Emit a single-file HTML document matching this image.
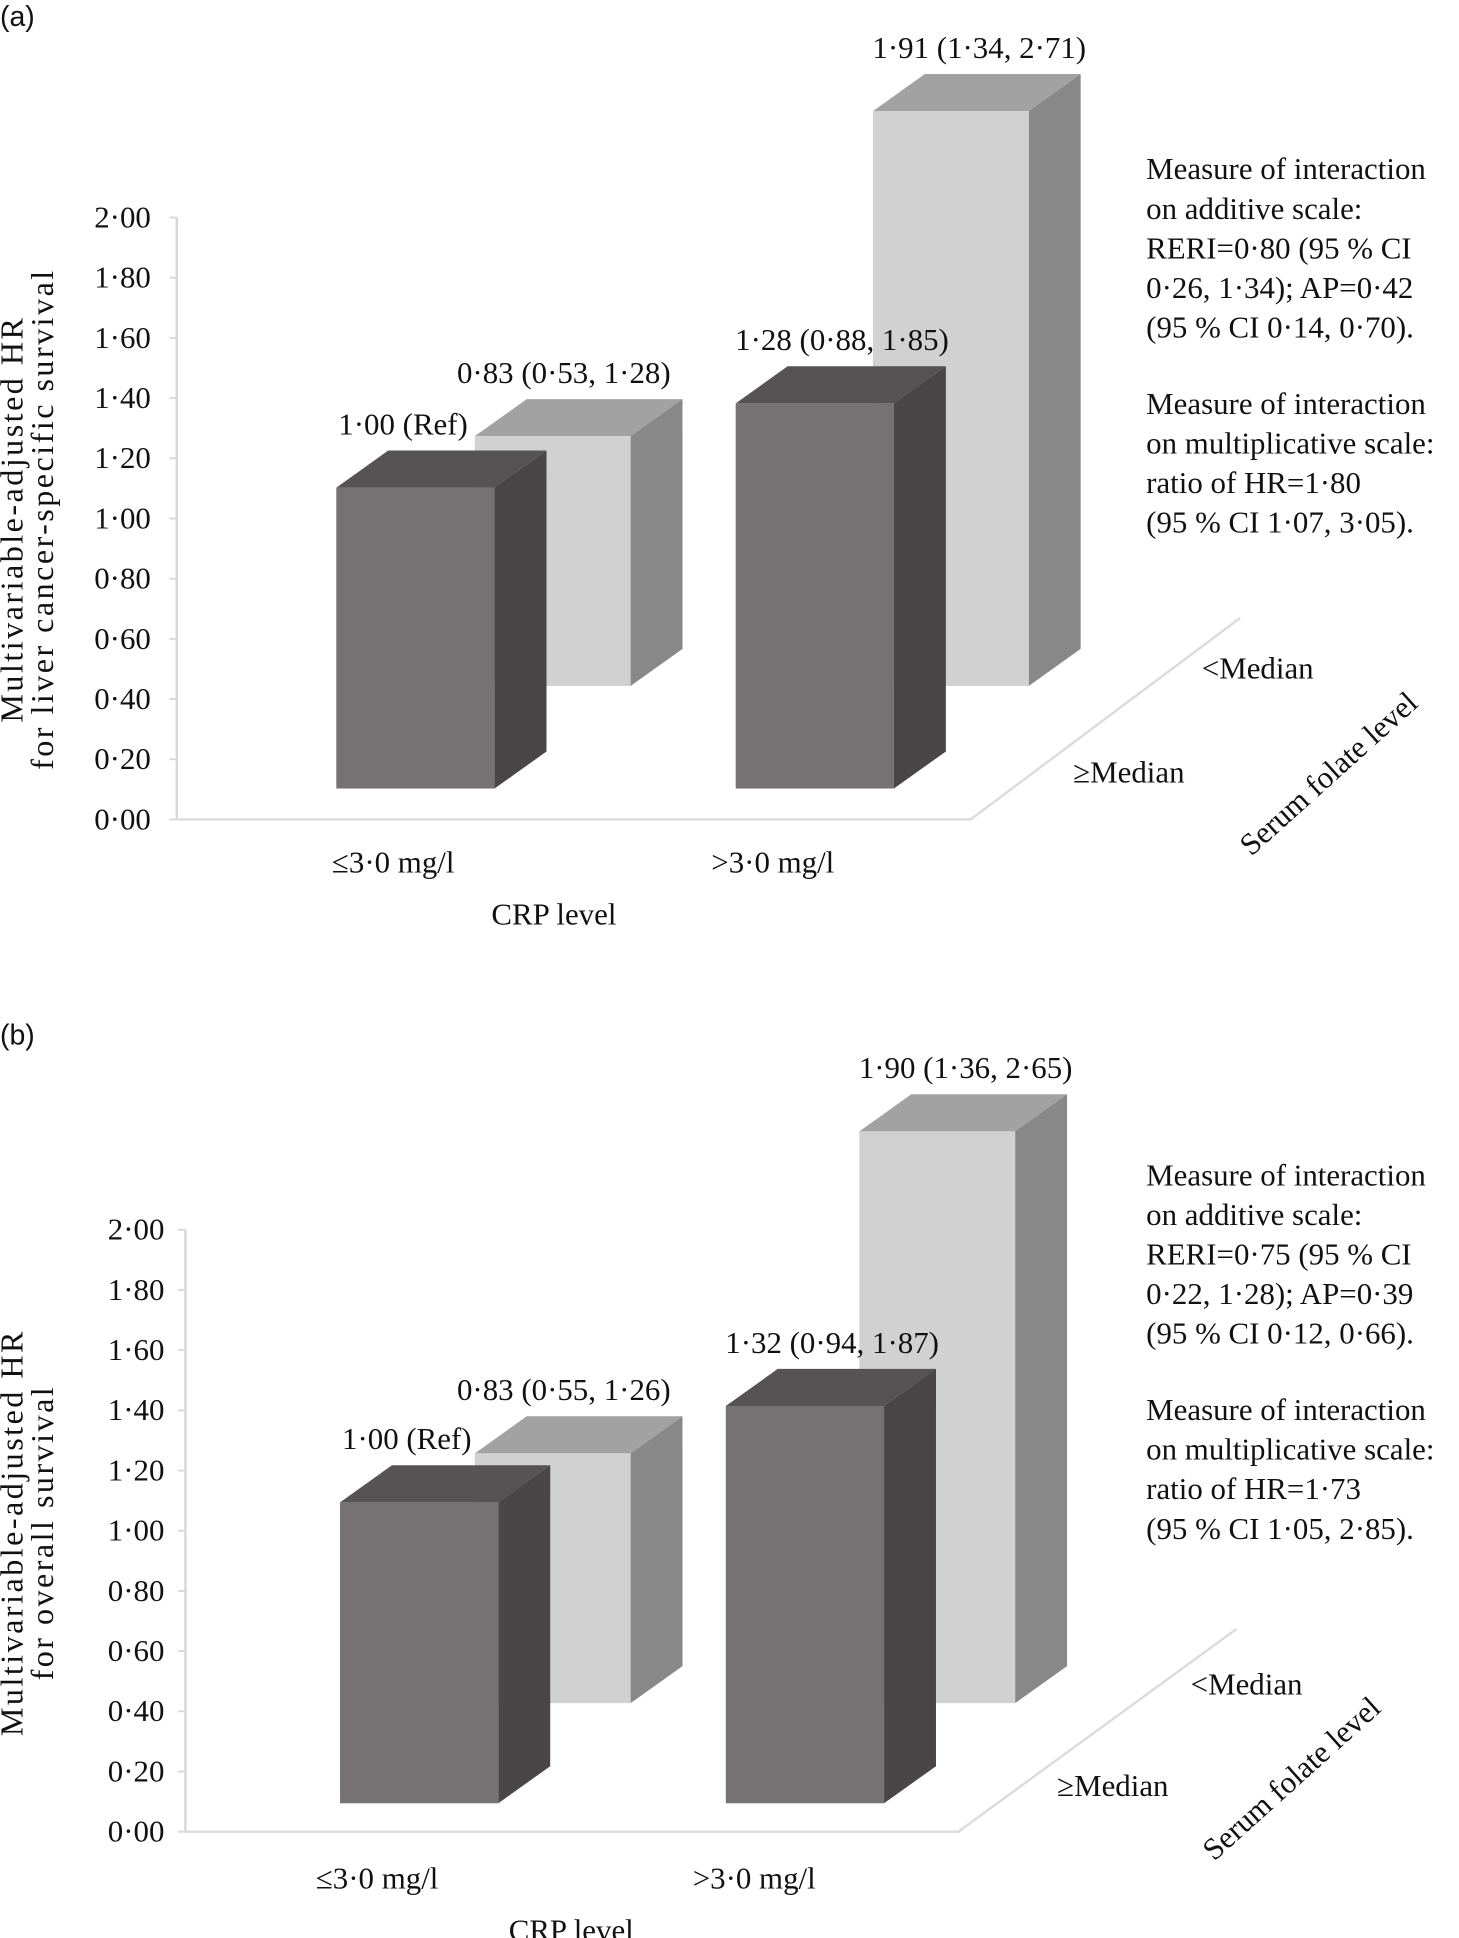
<!DOCTYPE html>
<html><head><meta charset="utf-8">
<style>
html,body{margin:0;padding:0;background:#fff;}
svg{display:block;}
text{font-family:"Liberation Serif",serif;fill:#111;}
</style></head>
<body>
<svg id="fig" width="1459" height="1938" viewBox="0 0 1180 1568" preserveAspectRatio="none" xmlns="http://www.w3.org/2000/svg"></svg>
<script>
// Panel (a) data
const catLabels = ["≤3·0 mg/l", ">3·0 mg/l"];
const tickValues = [0, 0.2, 0.4, 0.6, 0.8, 1.0, 1.2, 1.4, 1.6, 1.8, 2.0];
const tickLabels = ["0·00","0·20","0·40","0·60","0·80","1·00","1·20","1·40","1·60","1·80","2·00"];
const aFront = [1.00, 1.28];
const aBack = [0.83, 1.91];
const aFrontLabels = ["1·00 (Ref)", "1·28 (0·88, 1·85)"];
const aBackLabels = ["0·83 (0·53, 1·28)", "1·91 (1·34, 2·71)"];
const aNotes = ["Measure of interaction","on additive scale:","RERI=0·80 (95 % CI","0·26, 1·34); AP=0·42","(95 % CI 0·14, 0·70).","Measure of interaction","on multiplicative scale:","ratio of HR=1·80","(95 % CI 1·07, 3·05)."];
// Panel (b) data
const bFront = [1.00, 1.32];
const bBack = [0.83, 1.90];
const bFrontLabels = ["1·00 (Ref)", "1·32 (0·94, 1·87)"];
const bBackLabels = ["0·83 (0·55, 1·26)", "1·90 (1·36, 2·65)"];
const bNotes = ["Measure of interaction","on additive scale:","RERI=0·75 (95 % CI","0·22, 1·28); AP=0·39","(95 % CI 0·12, 0·66).","Measure of interaction","on multiplicative scale:","ratio of HR=1·73","(95 % CI 1·05, 2·85)."];

const NS = "http://www.w3.org/2000/svg";
const svg = document.getElementById('fig');
const FS = 25;
function mk(tag, attrs, parent, txt){
  const e = document.createElementNS(NS, tag);
  for (const k in attrs) e.setAttribute(k, attrs[k]);
  if (txt !== undefined) e.textContent = txt;
  (parent || svg).appendChild(e);
  return e;
}

function panel(cfg){
  const g = mk('g', {});
  
  
  const unit = 243.5;
  const yAxis = v => cfg.axisBottom - v * unit;
  const yFront = v => cfg.frontBase - v * unit;
  const yBack = v => cfg.backBase - v * unit;
  const dx = 42, dy = -30;

  const lbl = mk('text', {x: 0, y: cfg.top + 21, 'font-size': 23, style: 'font-family:"Liberation Sans",sans-serif'}, g, cfg.letter);
  
  

  const ax = mk('line', {x1: cfg.axisX, y1: yAxis(2), x2: cfg.axisX, y2: yAxis(0), stroke: '#d8d8d8', 'stroke-width': 2}, g);
  
  
  const fl = mk('polyline', {points: `${cfg.axisX},${yAxis(0)} ${cfg.floorX},${yAxis(0)} ${cfg.floorX2},${yAxis(0)-cfg.floorDY}`, fill: 'none', stroke: '#dcdcdc', 'stroke-width': 2}, g);
  
  
  for (let i = 0; i < tickValues.length; i++){
    mk('line', {x1: cfg.axisX - 6, y1: yAxis(tickValues[i]), x2: cfg.axisX, y2: yAxis(tickValues[i]), stroke: '#d8d8d8', 'stroke-width': 1.5}, g);
    const t = mk('text', {x: cfg.tickX, y: yAxis(tickValues[i]) + 8, 'font-size': FS, 'text-anchor': 'end'}, g, tickLabels[i]);
    
    
  }

  function bar(x, w, base, yTop, colors, name){
    const bg = mk('g', {}, g);
    
    
    mk('polygon', {points: `${x},${yTop} ${x+dx},${yTop+dy} ${x+w+dx},${yTop+dy} ${x+w},${yTop}`, fill: colors[2]}, bg);
    mk('polygon', {points: `${x+w},${yTop} ${x+w+dx},${yTop+dy} ${x+w+dx},${base+dy} ${x+w},${base}`, fill: colors[1]}, bg);
    mk('rect', {x: x, y: yTop, width: w, height: base - yTop, fill: colors[0]}, bg);
  }
  const backC = ['#d1d1d1', '#888888', '#a2a2a2'];
  const frontC = ['#767273', '#4a4647', '#575354'];
  for (let i = 0; i < 2; i++){
    const yt = yBack(cfg.back[i]);
    bar(cfg.backX[i], 126, cfg.backBase, yt, backC, 'bar-back-' + (i+1));
    const t = mk('text', {x: cfg.backX[i] + (i === 0 ? 72 : 86), y: yt + dy - 13, 'font-size': FS, 'text-anchor': 'middle'}, g, cfg.backLabels[i]);
    
    
  }
  for (let i = 0; i < 2; i++){
    const yt = yFront(cfg.front[i]);
    bar(cfg.frontX[i], 128, cfg.frontBase, yt, frontC, 'bar-front-' + (i+1));
    const t = mk('text', {x: cfg.frontX[i] + (i === 0 ? 54 : 86), y: yt + dy - 13, 'font-size': FS, 'text-anchor': 'middle'}, g, cfg.frontLabels[i]);
    
    
  }
  for (let i = 0; i < 2; i++){
    const t = mk('text', {x: cfg.catX[i], y: cfg.catY, 'font-size': FS, 'text-anchor': 'middle'}, g, catLabels[i]);
    
    
  }
  const xt = mk('text', {x: cfg.crpX, y: cfg.catY + 42, 'font-size': FS, 'text-anchor': 'middle'}, g, 'CRP level');
  
  
  const m1 = mk('text', {x: cfg.medX[0], y: cfg.medY[0], 'font-size': FS}, g, '<Median');
  
  
  const m2 = mk('text', {x: cfg.medX[1], y: cfg.medY[1], 'font-size': FS}, g, '≥Median');
  
  
  const sf = mk('text', {x: 0, y: 0, 'font-size': FS, 'text-anchor': 'middle', transform: `translate(${cfg.sfX},${cfg.sfY}) rotate(-42)`}, g, 'Serum folate level');
  
  
  const yt = mk('text', {x: 0, y: 0, 'font-size': 26, 'text-anchor': 'middle', transform: `translate(${cfg.ytX},${cfg.ytY}) rotate(-90)`, style: 'letter-spacing:2px'}, g);
  
  
  mk('tspan', {x: 0, dy: 0}, yt, cfg.yTitle[0]);
  mk('tspan', {x: 0, dy: 25}, yt, cfg.yTitle[1]);
  const ng = mk('text', {x: cfg.noteX, y: cfg.noteY, 'font-size': FS}, g);
  
  
  cfg.notes.forEach((s, i) => {
    mk('tspan', {x: cfg.noteX, y: cfg.noteY + i * 32 + (i >= 5 ? 30 : 0)}, ng, s);
  });
}

panel({name: 'panel-a', letter: '(a)', top: 0, axisX: 143, axisBottom: 663, tickX: 122,
  frontBase: 638, backBase: 555, frontX: [272, 595], backX: [384, 706],
  front: aFront, back: aBack, frontLabels: aFrontLabels, backLabels: aBackLabels,
  floorX: 785, floorX2: 1003, floorDY: 163,
  catX: [318, 625], catY: 706, crpX: 448, medX: [972, 868], medY: [549, 633],
  sfX: 1080, sfY: 632, ytX: 18, ytY: 420,
  yTitle: ['Multivariable-adjusted HR', 'for liver cancer-specific survival'],
  notes: aNotes, noteX: 927, noteY: 145});

panel({name: 'panel-b', letter: '(b)', top: 824, axisX: 150, axisBottom: 1482, tickX: 133,
  frontBase: 1459, backBase: 1378, frontX: [275, 587], backX: [384, 695],
  front: bFront, back: bBack, frontLabels: bFrontLabels, backLabels: bBackLabels,
  floorX: 775, floorX2: 1000, floorDY: 164,
  catX: [305, 610], catY: 1528, crpX: 462, medX: [963, 855], medY: [1371, 1453],
  sfX: 1050, sfY: 1445, ytX: 18, ytY: 1240,
  yTitle: ['Multivariable-adjusted HR', 'for overall survival'],
  notes: bNotes, noteX: 927, noteY: 959});
</script>
</body></html>
